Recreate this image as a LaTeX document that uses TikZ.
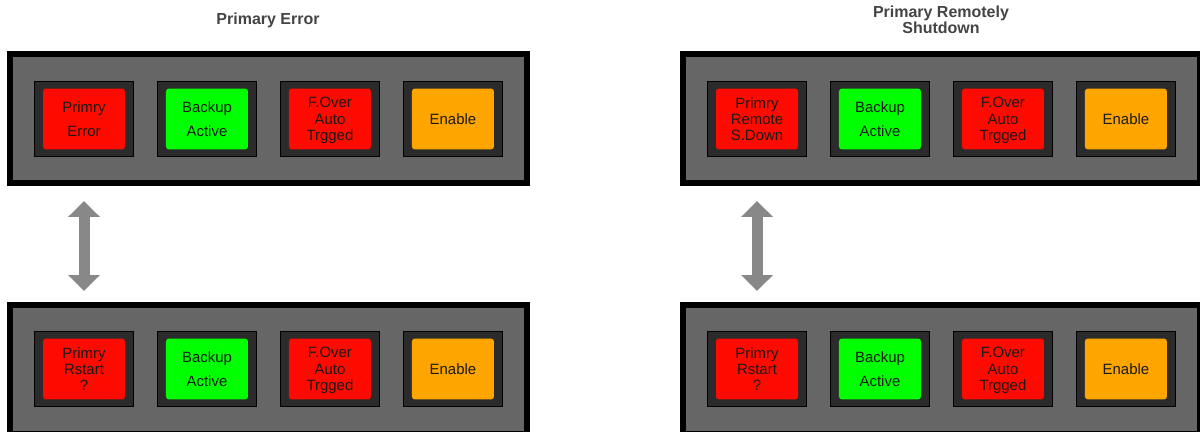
\documentclass[tikz,border=0pt]{standalone}
\usepackage{fontspec}
\setmainfont{Liberation Sans}
\usetikzlibrary{arrows.meta,positioning}
\definecolor{panelgray}{HTML}{666666}
\definecolor{housinggray}{HTML}{2B2B2B}
\definecolor{lampred}{HTML}{FF0A00}
\definecolor{lampgreen}{HTML}{00FF00}
\definecolor{lamporange}{HTML}{FFA500}
\definecolor{titlegray}{HTML}{444444}
\definecolor{arrowgray}{HTML}{888888}

\begin{document}
\begin{tikzpicture}[
  x=0.02cm,y=-0.02cm,
  node distance=0.46cm,
  panel/.style={draw=black,line width=0.12cm,fill=panelgray,minimum width=10.34cm,minimum height=2.58cm,inner sep=0pt},
  housing/.style={draw=black,line width=0.02cm,fill=housinggray,minimum width=1.98cm,minimum height=1.5cm,inner sep=0pt},
  lamp/.style={rounded corners=0.06cm,minimum width=1.64cm,minimum height=1.22cm,align=center,inner sep=0pt,text depth=0pt,text=black!90,font=\fontsize{8.5}{9.3}\selectfont},
  twoline/.style={font=\fontsize{8.5}{13.7}\selectfont},
  paneltitle/.style={text=titlegray,font=\bfseries\fontsize{9.1}{9.1}\selectfont,align=center},
  swaparrow/.style={draw=arrowgray,line width=0.22cm,{Triangle[width=0.62cm,length=0.32cm]}-{Triangle[width=0.62cm,length=0.32cm]}}
]
  \useasboundingbox (0,0) rectangle (1200,432);
  \clip (0,0) rectangle (1200,432);

  % titles
  \node[paneltitle] (ta) at (268,20) {Primary Error};
  \node[paneltitle] (tb) at (941,20) {Primary Remotely\\Shutdown};

  % panels
  \node[panel] (pa) at (268.5,118.5) {};
  \node[panel] (pb) at (268.5,369.5) {};
  \node[panel] (qa) at (941.5,118.5) {};
  \node[panel] (qb) at (941.5,369.5) {};

  % left, upper row
  \node[housing] (pa1) at (84,119) {};
  \node[housing,right=of pa1] (pa2) {};
  \node[housing,right=of pa2] (pa3) {};
  \node[housing,right=of pa3] (pa4) {};
  \node[lamp,twoline,fill=lampred] (la1) at (pa1) {Primry\\Error};
  \node[lamp,twoline,fill=lampgreen] (la2) at (pa2) {Backup\\Active};
  \node[lamp,fill=lampred] (la3) at (pa3) {F.Over\\Auto\\Trgged};
  \node[lamp,fill=lamporange] (la4) at (pa4) {Enable};

  % left, lower row
  \node[housing] (pb1) at (84,369) {};
  \node[housing,right=of pb1] (pb2) {};
  \node[housing,right=of pb2] (pb3) {};
  \node[housing,right=of pb3] (pb4) {};
  \node[lamp,fill=lampred] (lb1) at (pb1) {Primry\\Rstart\\?};
  \node[lamp,twoline,fill=lampgreen] (lb2) at (pb2) {Backup\\Active};
  \node[lamp,fill=lampred] (lb3) at (pb3) {F.Over\\Auto\\Trgged};
  \node[lamp,fill=lamporange] (lb4) at (pb4) {Enable};

  % right, upper row
  \node[housing] (qa1) at (757,119) {};
  \node[housing,right=of qa1] (qa2) {};
  \node[housing,right=of qa2] (qa3) {};
  \node[housing,right=of qa3] (qa4) {};
  \node[lamp,fill=lampred] (ma1) at (qa1) {Primry\\Remote\\S.Down};
  \node[lamp,twoline,fill=lampgreen] (ma2) at (qa2) {Backup\\Active};
  \node[lamp,fill=lampred] (ma3) at (qa3) {F.Over\\Auto\\Trgged};
  \node[lamp,fill=lamporange] (ma4) at (qa4) {Enable};

  % right, lower row
  \node[housing] (qb1) at (757,369) {};
  \node[housing,right=of qb1] (qb2) {};
  \node[housing,right=of qb2] (qb3) {};
  \node[housing,right=of qb3] (qb4) {};
  \node[lamp,fill=lampred] (mb1) at (qb1) {Primry\\Rstart\\?};
  \node[lamp,twoline,fill=lampgreen] (mb2) at (qb2) {Backup\\Active};
  \node[lamp,fill=lampred] (mb3) at (qb3) {F.Over\\Auto\\Trgged};
  \node[lamp,fill=lamporange] (mb4) at (qb4) {Enable};

  % swap arrows
  \draw[swaparrow,shorten <=0.88cm,shorten >=0.8cm] (pa1) -- (pb1);
  \draw[swaparrow,shorten <=0.88cm,shorten >=0.8cm] (qa1) -- (qb1);
\end{tikzpicture}
\end{document}
